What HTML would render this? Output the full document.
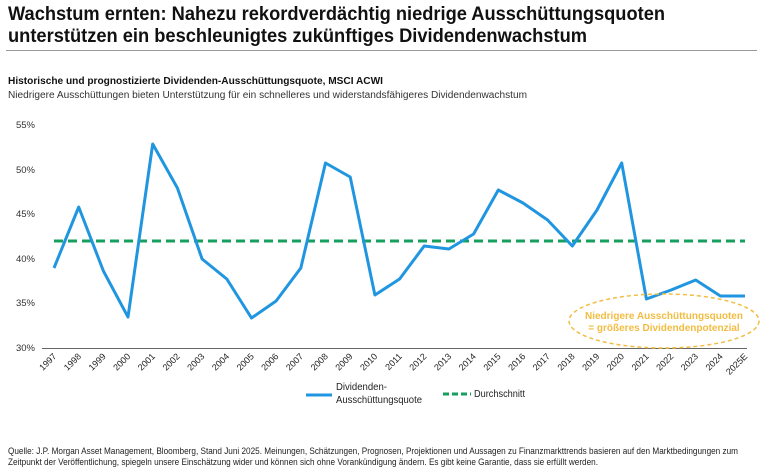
<!DOCTYPE html>
<html><head><meta charset="utf-8"><style>
body{margin:0;background:#fff}
svg{display:block;font-family:"Liberation Sans",Arial,sans-serif}
</style></head><body>
<svg width="768" height="467" viewBox="0 0 768 467">
<text x="8" y="20" font-size="19" font-weight="bold" fill="#111" textLength="657" lengthAdjust="spacingAndGlyphs">Wachstum ernten: Nahezu rekordverdächtig niedrige Ausschüttungsquoten</text>
<text x="8" y="42" font-size="19" font-weight="bold" fill="#111" textLength="579" lengthAdjust="spacingAndGlyphs">unterstützen ein beschleunigtes zukünftiges Dividendenwachstum</text>
<line x1="6" y1="50.5" x2="757" y2="50.5" stroke="#999" stroke-width="1"/>
<text x="8" y="84" font-size="10" font-weight="bold" fill="#111" textLength="375" lengthAdjust="spacingAndGlyphs">Historische und prognostizierte Dividenden-Ausschüttungsquote, MSCI ACWI</text>
<text x="8" y="98" font-size="10" fill="#333" textLength="519" lengthAdjust="spacingAndGlyphs">Niedrigere Ausschüttungen bieten Unterstützung für ein schnelleres und widerstandsfähigeres Dividendenwachstum</text>
<g font-size="9.5" fill="#333" text-anchor="end">
<text x="35" y="128">55%</text><text x="35" y="173">50%</text><text x="35" y="217">45%</text>
<text x="35" y="262">40%</text><text x="35" y="306">35%</text><text x="35" y="351">30%</text>
</g>
<line x1="42" y1="348.5" x2="747" y2="348.5" stroke="#666" stroke-width="1"/>
<line x1="54" y1="241" x2="745" y2="241" stroke="#17a05d" stroke-width="3" stroke-dasharray="9,5"/>
<polyline fill="none" stroke="#2196e0" stroke-width="3" stroke-linejoin="round" points="54,268 78.7,207 103.4,271 128,317 152.7,144 177.4,188 202.1,259 226.8,279 251.5,318 276.1,301 300.8,268 325.5,163 350.2,177 374.9,295 399.6,279 424.2,246 448.9,249 473.6,234 498.3,190 523,203 547.6,220 572.3,246 597,210 621.7,163 646.4,299 671.1,290 695.7,280 720.4,296 745,296"/>
<ellipse cx="664" cy="321" rx="95" ry="27" fill="none" stroke="#f2bd42" stroke-width="1.5" stroke-dasharray="4,3"/>
<text x="664" y="319" font-size="10" font-weight="bold" fill="#f2bd42" text-anchor="middle">Niedrigere Ausschüttungsquoten</text>
<text x="664" y="331" font-size="10" font-weight="bold" fill="#f2bd42" text-anchor="middle">= größeres Dividendenpotenzial</text>
<g font-size="9" fill="#222" text-anchor="end">
<text transform="translate(57,357) rotate(-45)">1997</text>
<text transform="translate(81.7,357) rotate(-45)">1998</text>
<text transform="translate(106.4,357) rotate(-45)">1999</text>
<text transform="translate(131,357) rotate(-45)">2000</text>
<text transform="translate(155.7,357) rotate(-45)">2001</text>
<text transform="translate(180.4,357) rotate(-45)">2002</text>
<text transform="translate(205.1,357) rotate(-45)">2003</text>
<text transform="translate(229.8,357) rotate(-45)">2004</text>
<text transform="translate(254.5,357) rotate(-45)">2005</text>
<text transform="translate(279.1,357) rotate(-45)">2006</text>
<text transform="translate(303.8,357) rotate(-45)">2007</text>
<text transform="translate(328.5,357) rotate(-45)">2008</text>
<text transform="translate(353.2,357) rotate(-45)">2009</text>
<text transform="translate(377.9,357) rotate(-45)">2010</text>
<text transform="translate(402.6,357) rotate(-45)">2011</text>
<text transform="translate(427.2,357) rotate(-45)">2012</text>
<text transform="translate(451.9,357) rotate(-45)">2013</text>
<text transform="translate(476.6,357) rotate(-45)">2014</text>
<text transform="translate(501.3,357) rotate(-45)">2015</text>
<text transform="translate(526,357) rotate(-45)">2016</text>
<text transform="translate(550.6,357) rotate(-45)">2017</text>
<text transform="translate(575.3,357) rotate(-45)">2018</text>
<text transform="translate(600,357) rotate(-45)">2019</text>
<text transform="translate(624.7,357) rotate(-45)">2020</text>
<text transform="translate(649.4,357) rotate(-45)">2021</text>
<text transform="translate(674.1,357) rotate(-45)">2022</text>
<text transform="translate(698.7,357) rotate(-45)">2023</text>
<text transform="translate(723.4,357) rotate(-45)">2024</text>
<text transform="translate(748,357) rotate(-45)">2025E</text>
</g>
<line x1="306" y1="395" x2="332" y2="395" stroke="#2196e0" stroke-width="3"/>
<text x="336" y="390" font-size="10" fill="#222" textLength="51" lengthAdjust="spacingAndGlyphs">Dividenden-</text>
<text x="336" y="403" font-size="10" fill="#222" textLength="86" lengthAdjust="spacingAndGlyphs">Ausschüttungsquote</text>
<line x1="443" y1="394" x2="471" y2="394" stroke="#17a05d" stroke-width="3" stroke-dasharray="6,3"/>
<text x="474" y="397" font-size="10" fill="#222" textLength="51" lengthAdjust="spacingAndGlyphs">Durchschnitt</text>
<text x="8" y="454" font-size="9" fill="#222" textLength="730" lengthAdjust="spacingAndGlyphs">Quelle: J.P. Morgan Asset Management, Bloomberg, Stand Juni 2025. Meinungen, Schätzungen, Prognosen, Projektionen und Aussagen zu Finanzmarkttrends basieren auf den Marktbedingungen zum</text>
<text x="8" y="465" font-size="9" fill="#222" textLength="590" lengthAdjust="spacingAndGlyphs">Zeitpunkt der Veröffentlichung, spiegeln unsere Einschätzung wider und können sich ohne Vorankündigung ändern. Es gibt keine Garantie, dass sie erfüllt werden.</text>
</svg>
</body></html>
